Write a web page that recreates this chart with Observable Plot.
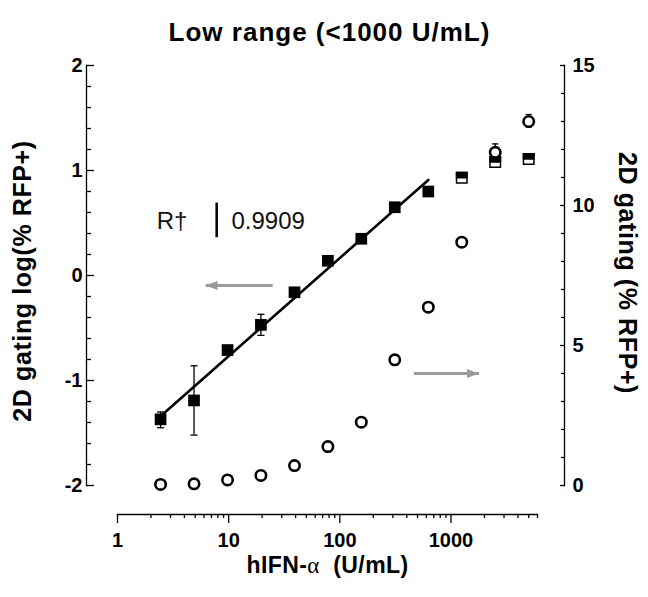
<!DOCTYPE html>
<html><head><meta charset="utf-8">
<script src="https://cdn.jsdelivr.net/npm/d3@7"></script>
<script src="https://cdn.jsdelivr.net/npm/@observablehq/plot@0.6"></script>
<style>body{margin:0;background:#fff}</style>
</head><body><div id="chart"></div>
<script>
// ---- data ----
const conc = [2.44, 4.88, 9.77, 19.5, 39.1, 78.1, 156, 312, 625, 1250, 2500, 5000];
const logRFP = [-1.37, -1.19, -0.71, -0.47, -0.16, 0.14, 0.35, 0.65, 0.80, 0.93, 1.08, 1.11];
const inFit = [true, true, true, true, true, true, true, true, true, false, false, false];
const pctRFP = [0.04, 0.06, 0.20, 0.36, 0.71, 1.39, 2.26, 4.49, 6.37, 8.69, 11.9, 13.0];
const sqErrConc = [2.44, 4.88, 19.5];
const sqErrLo = [-1.45, -1.52, -0.57];
const sqErrHi = [-1.30, -0.86, -0.37];
const ciErrConc = [2500, 5000];
const ciErrLo = [11.6, 12.8];
const ciErrHi = [12.2, 13.25];
const fitConc = [2.44, 625];
const fitLog = [-1.34, 0.91];
// annotation
const r2Label = ["R†", "0.9909"];
const r2Conc = [2.25, 10.6];
const r2Log = [0.52, 0.52];
const r2BarConc = [7.8];
const r2BarLo = [0.36];
const r2BarHi = [0.69];
// arrows: left points to left axis (log units), right to right axis (% units)
const arrowLeftConc = [24.9, 6.2];
const arrowLeftLog = [-0.095];
const arrowRightConc = [464, 1786];
const arrowRightPct = [4.0];
// ticks
const xMajor = [1, 10, 100, 1000];
const xMinor = [2,3,4,5,6,7,8,9,20,30,40,50,60,70,80,90,200,300,400,500,600,700,800,900,2000,3000,4000,5000,6000];
const yLeftMajor = [-2, -1, 0, 1, 2];
const yLeftMinor = [-1.8,-1.6,-1.4,-1.2,-0.8,-0.6,-0.4,-0.2,0.2,0.4,0.6,0.8,1.2,1.4,1.6,1.8];
const yRightMajor = [0, 5, 10, 15];
const yRightMinor = [1,2,3,4,6,7,8,9,11,12,13,14];

const titleText = "Low range (<1000 U/mL)";
const yLeftTitle = "2D gating log(% RFP+)";
const yRightTitle = "2D gating (% RFP+)";
const xTitle = "hIFN-α (U/mL)";

// right axis (0..15 %) drawn on the left scale (-2..2)
const toLeft = v => -2 + v * 4 / 15;
const fromLeft = y => (y + 2) * 15 / 4;

const pts = conc.map((c, i) => ({c, lg: logRFP[i], fit: inFit[i], pct: pctRFP[i]}));
const sqErr = sqErrConc.map((c, i) => ({c, lo: sqErrLo[i], hi: sqErrHi[i]}));
const ciErr = ciErrConc.map((c, i) => ({c, lo: toLeft(ciErrLo[i]), hi: toLeft(ciErrHi[i])}));
const fit = fitConc.map((c, i) => ({c, lg: fitLog[i]}));

// custom symbols
const symSquare = {draw(ctx, size) { const s = Math.sqrt(size); ctx.rect(-s/2, -s/2, s, s); }};
const symTopHalf = {draw(ctx, size) { const s = Math.sqrt(size); ctx.rect(-s/2, -s/2, s, s/2); }};
const symCap = {draw(ctx, size) { const w = Math.sqrt(size) / 2; ctx.moveTo(-w, 0); ctx.lineTo(w, 0); }};
const symHead = {draw(ctx, size) { ctx.moveTo(0, 0); ctx.lineTo(12, -4.5); ctx.lineTo(12, 4.5); ctx.closePath(); }};

const FONT = "Arial, 'Liberation Sans', Helvetica, sans-serif";
const grey = "#9a9a9a";

const plot = Plot.plot({
  width: 648, height: 597,
  marginLeft: 86, marginRight: 84, marginTop: 65, marginBottom: 83,
  x: {type: "log", domain: [1, 6000], range: [117, 537]},
  y: {domain: [-2, 2], range: [485, 65]},
  style: {fontFamily: FONT, fontSize: "20px", background: "white", color: "black"},
  marks: [
    // axis lines
    Plot.frame({anchor: "left", insetBottom: 29, strokeWidth: 1.3}),
    Plot.frame({anchor: "right", insetBottom: 29, strokeWidth: 1.3}),
    Plot.frame({anchor: "bottom", insetLeft: 31, insetRight: 27, strokeWidth: 1.3}),
    // x axis
    Plot.axisX({ticks: xMajor, tickSize: 9, tickPadding: 9, tickFormat: d => String(d), fontWeight: "bold", fontSize: 20, label: null, strokeWidth: 1.3}),
    Plot.axisX({ticks: xMinor, tickSize: 4, fill: "none", label: null, strokeWidth: 1.3}),
    // left axis (ticks inward)
    Plot.axisY({anchor: "left", ticks: yLeftMajor, tickSize: 8, dx: 8, fill: "none", label: null, strokeWidth: 1.3}),
    Plot.axisY({anchor: "left", ticks: yLeftMinor, tickSize: 5, dx: 5, fill: "none", label: null, strokeWidth: 1.3}),
    Plot.axisY({anchor: "left", ticks: yLeftMajor, tickSize: 0, tickPadding: 4, tickFormat: d => String(d), fontWeight: "bold", fontSize: 20, label: null}),
    // right axis (ticks inward)
    Plot.axisY({anchor: "right", ticks: yRightMajor.map(toLeft), tickSize: 5, dx: -5, fill: "none", label: null, strokeWidth: 1.3}),
    Plot.axisY({anchor: "right", ticks: yRightMinor.map(toLeft), tickSize: 4, dx: -4, fill: "none", label: null, strokeWidth: 1.3}),
    Plot.axisY({anchor: "right", ticks: yRightMajor.map(toLeft), tickSize: 0, tickPadding: 8, tickFormat: d => String(Math.round(fromLeft(d))), fontWeight: "bold", fontSize: 20, label: null}),
    // regression line
    Plot.line(fit, {x: "c", y: "lg", stroke: "black", strokeWidth: 2.6}),
    // error bars
    Plot.ruleX(sqErr, {x: "c", y1: "lo", y2: "hi", strokeWidth: 1.3}),
    Plot.dot(sqErr, {x: "c", y: "lo", symbol: symCap, r: 4, stroke: "black", strokeWidth: 1.3}),
    Plot.dot(sqErr, {x: "c", y: "hi", symbol: symCap, r: 4, stroke: "black", strokeWidth: 1.3}),
    Plot.ruleX(ciErr, {x: "c", y1: "lo", y2: "hi", strokeWidth: 1.3}),
    Plot.dot(ciErr, {x: "c", y: "lo", symbol: symCap, r: 3.5, stroke: "black", strokeWidth: 1.3}),
    Plot.dot(ciErr, {x: "c", y: "hi", symbol: symCap, r: 3.5, stroke: "black", strokeWidth: 1.3}),
    // squares (left axis)
    Plot.dot(pts.filter(d => d.fit), {x: "c", y: "lg", symbol: symSquare, r: 6.6, fill: "black", stroke: "none"}),
    Plot.dot(pts.filter(d => !d.fit), {x: "c", y: "lg", symbol: symSquare, r: 5.9, fill: "white", stroke: "black", strokeWidth: 1.5}),
    Plot.dot(pts.filter(d => !d.fit), {x: "c", y: "lg", symbol: symTopHalf, r: 5.9, fill: "black", stroke: "black", strokeWidth: 1.5}),
    // circles (right axis)
    Plot.dot(pts, {x: "c", y: d => toLeft(d.pct), symbol: "circle", r: 5.2, fill: "white", stroke: "black", strokeWidth: 2.6}),
    // annotation
    Plot.text(r2Label, {x: (d, i) => r2Conc[i], y: (d, i) => r2Log[i], text: d => d, textAnchor: "start", fontSize: 24, fontWeight: "normal", fill: "#111"}),
    Plot.ruleX(r2BarConc, {x: d => d, y1: r2BarLo[0], y2: r2BarHi[0], strokeWidth: 2.5}),
    // arrows
    Plot.link([0], {x1: arrowLeftConc[0], x2: arrowLeftConc[1], y1: arrowLeftLog[0], y2: arrowLeftLog[0], stroke: grey, strokeWidth: 3}),
    Plot.dot([0], {x: arrowLeftConc[1], y: arrowLeftLog[0], symbol: symHead, r: 5, fill: grey, stroke: "none"}),
    Plot.link([0], {x1: arrowRightConc[0], x2: arrowRightConc[1], y1: toLeft(arrowRightPct[0]), y2: toLeft(arrowRightPct[0]), stroke: grey, strokeWidth: 3}),
    Plot.dot([0], {x: arrowRightConc[1], y: toLeft(arrowRightPct[0]), symbol: symHead, rotate: 180, r: 5, fill: grey, stroke: "none"}),
    // titles
    Plot.text([titleText], {frameAnchor: "top", textAnchor: "middle", dx: 4, dy: -43, fontSize: 26, fontWeight: "bold"}),
    Plot.text([yLeftTitle], {frameAnchor: "left", textAnchor: "middle", dx: -64, dy: -9, rotate: -90, fontSize: 25, fontWeight: "bold"}),
    Plot.text([yRightTitle], {frameAnchor: "right", textAnchor: "middle", dx: 62, dy: -17, rotate: 90, fontSize: 25, fontWeight: "bold"}),
    Plot.text([xTitle], {frameAnchor: "bottom", textAnchor: "middle", dx: 2, dy: 58, fontSize: 23, fontWeight: "bold"})
  ]
});

const svg = d3.select(plot);
svg.selectAll("text").filter(function() { return this.textContent === titleText; }).attr("letter-spacing", "1");
svg.selectAll("text").filter(function() { return this.textContent === yLeftTitle || this.textContent === yRightTitle; }).attr("letter-spacing", "0.6");
// rich text for the x title: alpha in a lighter serif face
svg.selectAll("text").filter(function() { return this.textContent === xTitle; }).each(function() {
  const t = d3.select(this);
  t.text(null).attr("xml:space", "preserve").attr("letter-spacing", "0.4");
  t.append("tspan").text("hIFN-");
  t.append("tspan").attr("font-family", "'Liberation Serif', 'DejaVu Serif', serif").attr("font-weight", "normal").text("α");
  t.append("tspan").text("  (U/mL)");
});

document.getElementById("chart").appendChild(plot);
</script>
</body></html>
